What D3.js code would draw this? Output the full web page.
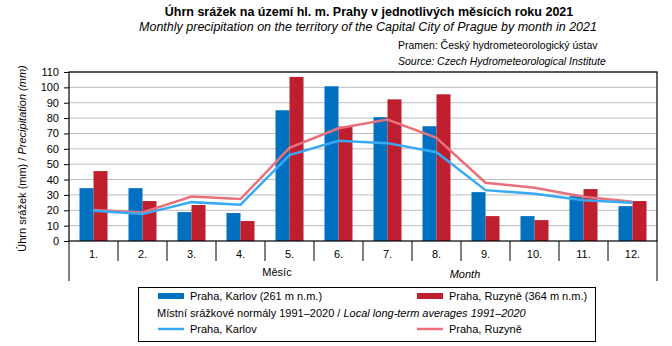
<!DOCTYPE html>
<html>
<head>
<meta charset="utf-8">
<script src="https://cdn.jsdelivr.net/npm/d3@7"></script>
<style>
  body { margin: 0; background: #fff; }
  svg { font-family: "Liberation Sans", Arial, sans-serif; }
</style>
</head>
<body>
<div id="chart"></div>
<script>
// monthly totals 2021 (mm) and 1991–2020 normals
const months = ["1.", "2.", "3.", "4.", "5.", "6.", "7.", "8.", "9.", "10.", "11.", "12."];
const karlov = [34.4, 34.4, 18.8, 18.2, 85.1, 100.7, 80.6, 74.7, 31.8, 16.2, 29.2, 22.7];
const ruzyne = [45.5, 26.0, 23.4, 13.0, 106.8, 74.5, 92.2, 95.5, 16.2, 13.6, 33.8, 26.0];
const normKarlov = [19.7, 17.5, 25.3, 23.6, 55.9, 65.2, 63.7, 57.8, 33.1, 30.7, 26.6, 24.9];
const normRuzyne = [20.1, 18.6, 29.0, 27.3, 60.6, 73.4, 79.0, 67.1, 37.9, 34.6, 28.8, 25.6];
const yTicks = [0, 10, 20, 30, 40, 50, 60, 70, 80, 90, 100, 110];

const width = 672, height = 346;
const margin = { top: 72, right: 15, bottom: 105, left: 69 };
const plotW = width - margin.left - margin.right;
const plotH = height - margin.top - margin.bottom;

const colKarlov = "#0070c0", colRuzyne = "#be1e2d";
const colNormK = "#38aaf4", colNormR = "#e9717b";

const svg = d3.select("#chart").append("svg")
    .attr("width", width)
    .attr("height", height);

const g = svg.append("g").attr("transform", `translate(${margin.left},${margin.top})`);

const x = d3.scaleBand().domain(months).range([0, plotW]).padding(0);
const bw = x.bandwidth();
const sub = d3.scaleBand().domain(["k", "r"]).range([bw / 2 - 14, bw / 2 + 14]);
const y = d3.scaleLinear().domain([0, 110]).range([plotH, 0]);

// grid
g.selectAll("line.grid")
    .data(yTicks.slice(1))
    .enter().append("line")
    .attr("class", "grid")
    .attr("x1", 0).attr("x2", plotW)
    .attr("y1", d => y(d)).attr("y2", d => y(d))
    .attr("stroke", "#bdbdbd").attr("stroke-width", 1);

// bars
const rows = months.map((m, i) => ({ m, k: karlov[i], r: ruzyne[i] }));
g.selectAll("rect.k").data(rows).enter().append("rect")
    .attr("x", d => x(d.m) + sub("k"))
    .attr("y", d => y(d.k))
    .attr("width", sub.bandwidth())
    .attr("height", d => plotH - y(d.k))
    .attr("fill", colKarlov);
g.selectAll("rect.r").data(rows).enter().append("rect")
    .attr("x", d => x(d.m) + sub("r"))
    .attr("y", d => y(d.r))
    .attr("width", sub.bandwidth())
    .attr("height", d => plotH - y(d.r))
    .attr("fill", colRuzyne);

// normal lines
const line = d3.line()
    .x((d, i) => x(months[i]) + bw / 2)
    .y(d => y(d));
g.append("path").datum(normRuzyne)
    .attr("d", line).attr("fill", "none")
    .attr("stroke", colNormR).attr("stroke-width", 2.5);
g.append("path").datum(normKarlov)
    .attr("d", line).attr("fill", "none")
    .attr("stroke", colNormK).attr("stroke-width", 2.5);

// plot frame
g.append("rect")
    .attr("x", 0).attr("y", 0).attr("width", plotW).attr("height", plotH)
    .attr("fill", "none").attr("stroke", "#000").attr("stroke-width", 1.2);

// y axis
const yAxis = g.append("g")
    .call(d3.axisLeft(y).tickValues(yTicks).tickSize(5).tickPadding(5));
yAxis.select(".domain").remove();
yAxis.selectAll("line").attr("stroke", "#000");
yAxis.selectAll("text").attr("font-size", 11).attr("fill", "#000")
    .attr("font-family", "Liberation Sans, Arial, sans-serif");

// category separators below the axis
g.selectAll("line.sep")
    .data(months.slice(1))
    .enter().append("line")
    .attr("x1", d => x(d)).attr("x2", d => x(d))
    .attr("y1", plotH).attr("y2", plotH + 20)
    .attr("stroke", "#000");
[0, plotW].forEach(px => g.append("line")
    .attr("x1", px).attr("x2", px)
    .attr("y1", plotH).attr("y2", plotH + 40)
    .attr("stroke", "#000"));

g.selectAll("text.month")
    .data(months)
    .enter().append("text")
    .attr("x", d => x(d) + bw / 2)
    .attr("y", plotH + 17)
    .attr("text-anchor", "middle")
    .attr("font-size", 11)
    .text(d => d);

g.append("text")
    .attr("x", 208).attr("y", plotH + 35)
    .attr("text-anchor", "middle").attr("font-size", 11)
    .text("Měsíc");
g.append("text")
    .attr("x", 396).attr("y", plotH + 37)
    .attr("text-anchor", "middle").attr("font-size", 11).attr("font-style", "italic")
    .text("Month");

// y axis title
const yt = svg.append("text")
    .attr("transform", `translate(26,${margin.top + plotH / 2 + 2}) rotate(-90)`)
    .attr("text-anchor", "middle").attr("font-size", 11);
yt.append("tspan").text("Úhrn srážek (mm) / ");
yt.append("tspan").attr("font-style", "italic").text("Precipitation (mm)");

// titles
svg.append("text")
    .attr("x", 369).attr("y", 16)
    .attr("text-anchor", "middle").attr("font-size", 12.5).attr("font-weight", "bold")
    .text("Úhrn srážek na území hl. m. Prahy v jednotlivých měsících roku 2021");
svg.append("text")
    .attr("x", 368).attr("y", 31)
    .attr("text-anchor", "middle").attr("font-size", 12.5).attr("font-style", "italic")
    .text("Monthly precipitation on the territory of the Capital City of Prague  by month in 2021");
svg.append("text")
    .attr("x", 398).attr("y", 49).attr("font-size", 10.5)
    .text("Pramen:  Český hydrometeorologický ústav");
svg.append("text")
    .attr("x", 398).attr("y", 65).attr("font-size", 10.5).attr("font-style", "italic")
    .text("Source: Czech Hydrometeorological Institute");

// legend
const lg = svg.append("g");
lg.append("rect")
    .attr("x", 138.5).attr("y", 287.5).attr("width", 457).attr("height", 54)
    .attr("fill", "#fff").attr("stroke", "#000");

const legendItems = [
    { type: "bar", color: colKarlov, label: "Praha, Karlov (261 m n.m.)", x: 158, y: 296 },
    { type: "bar", color: colRuzyne, label: "Praha, Ruzyně (364 m n.m.)", x: 417, y: 296 },
    { type: "line", color: colNormK, label: "Praha, Karlov", x: 158, y: 329 },
    { type: "line", color: colNormR, label: "Praha, Ruzyně", x: 417, y: 329 }
];
legendItems.forEach(d => {
    if (d.type === "bar") {
        lg.append("rect").attr("x", d.x).attr("y", d.y - 3).attr("width", 26).attr("height", 6).attr("fill", d.color);
    } else {
        lg.append("line").attr("x1", d.x).attr("x2", d.x + 26).attr("y1", d.y).attr("y2", d.y)
            .attr("stroke", d.color).attr("stroke-width", 2.5);
    }
    lg.append("text").attr("x", d.x + 32).attr("y", d.y + 4).attr("font-size", 11).text(d.label);
});
const lt = lg.append("text").attr("x", 157).attr("y", 317).attr("font-size", 11);
lt.append("tspan").text("Místní  srážkové normály 1991–2020 / ");
lt.append("tspan").attr("font-style", "italic").text("Local long-term averages 1991–2020");
</script>
</body>
</html>
